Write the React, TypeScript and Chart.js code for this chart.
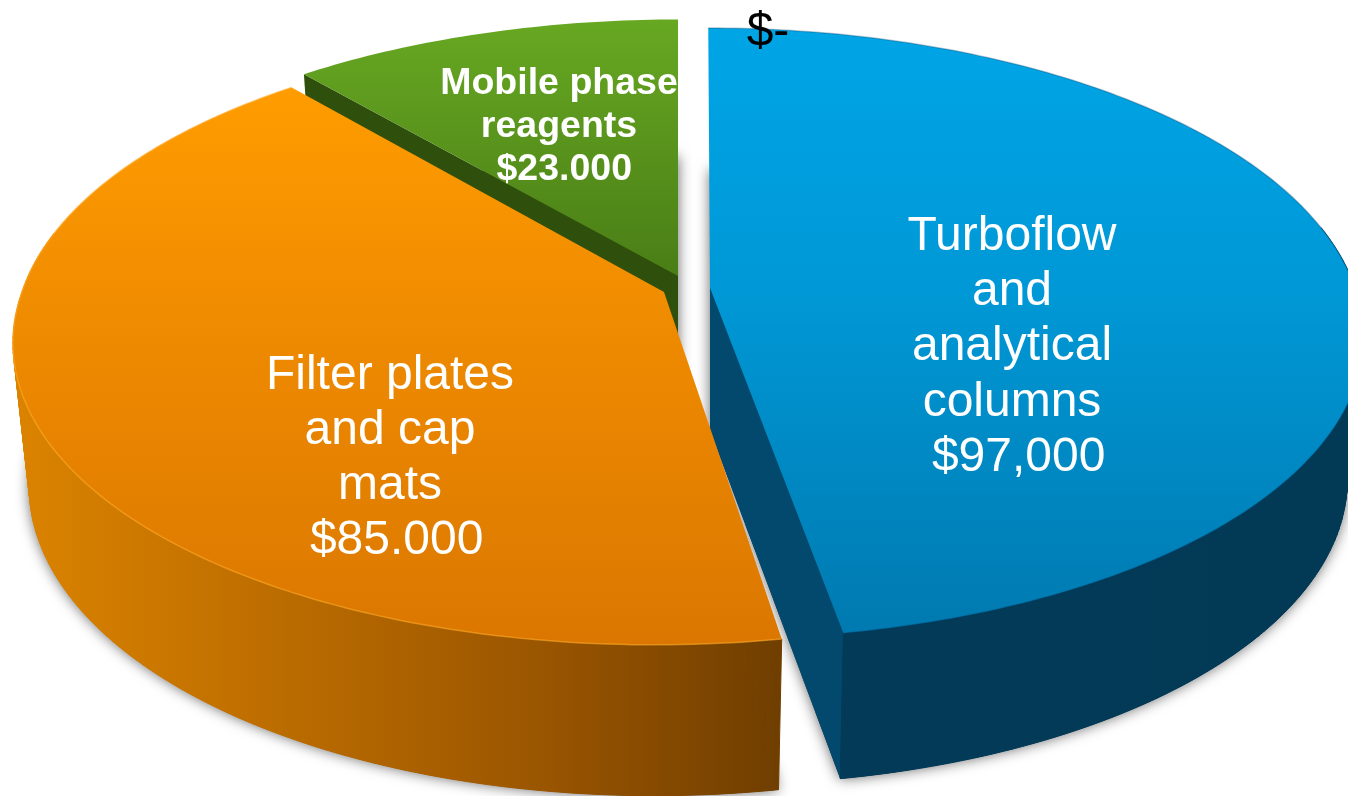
import React, { useEffect, useRef } from "react";
import Chart from "chart.js/auto";

// ---- chart data ----
const categories = [
  "Other",
  "Turboflow and analytical columns",
  "Filter plates and cap mats",
  "Mobile phase reagents",
];
const costs = [0, 97000, 85000, 23000];
const labelLines = [
  ["$-"],
  ["Turboflow", "and", "analytical", "columns", " $97,000"],
  ["Filter plates", "and cap", "mats", " $85.000"],
  ["Mobile phase", "reagents", " $23.000"],
];

// ---- styling ----
const FONT = '"Liberation Sans", Arial, sans-serif';
const PERSPECTIVE = 0.154;
const LOWER_X_SCALE = 0.975;
const DEPTH = 142;

type Stop = [number, string];
interface Look {
  cx: number;
  cy: number;
  rx: number;
  ry: number;
  frontY: number;
  lowerY: number;
  shearFront: number;
  shearBack: number;
  face: [number, number, Stop[]];
  wall: [number, number, Stop[]];
  cut: string;
  rim?: string;
}
const looks: (Look | null)[] = [
  null,
  {
    cx: 710, cy: 288, rx: 645, ry: 300, frontY: 0.99, lowerY: 1.0, shearFront: -5, shearBack: -2,
    face: [30, 640, [[0, "#00a5e6"], [0.45, "#0097d5"], [1, "#0079af"]]],
    wall: [700, 1348, [[0, "#023a58"], [1, "#023a56"]]],
    cut: "#03496e",
    rim: "rgba(0,60,100,0.3)",
  },
  {
    cx: 664, cy: 292, rx: 642, ry: 300, frontY: 0.995, lowerY: 1.02, shearFront: 8, shearBack: 0,
    face: [90, 645, [[0, "#ff9c00"], [0.5, "#ec8800"], [1, "#db7700"]]],
    wall: [20, 783, [[0, "#db8300"], [0.35, "#bb6c00"], [0.7, "#985400"], [1, "#6f3e00"]]],
    cut: "#8a4d00",
    rim: "rgba(255,170,40,0.6)",
  },
  {
    cx: 678, cy: 276, rx: 645, ry: 296, frontY: 1, lowerY: 1.02, shearFront: 0, shearBack: 0,
    face: [20, 280, [[0, "#67a822"], [1, "#497d16"]]],
    wall: [300, 680, [[0, "#2f4f0c"], [1, "#2f4f0c"]]],
    cut: "#2f4f0c",
  },
];
const drawOrder = [3, 1, 2];

interface LabelPlace { x: number; y: number; size: number; gap: number; bold: boolean; color: string; }
const labelPlaces: LabelPlace[] = [
  { x: 768, y: 46, size: 48, gap: 0, bold: false, color: "#000000" },
  { x: 1012, y: 250, size: 48, gap: 55.2, bold: false, color: "#ffffff" },
  { x: 390, y: 389, size: 48, gap: 55, bold: false, color: "#ffffff" },
  { x: 559, y: 94, size: 37.5, gap: 43, bold: true, color: "#ffffff" },
];

function project(l: Look, theta: number, r: number, lower: boolean): [number, number] {
  const u = Math.sin(theta) * r;
  const v = Math.cos(theta) * r;
  const w = 1 + PERSPECTIVE * v;
  const shear = v < 0 ? (l.shearFront * v) / w : lower ? 0 : (l.shearBack * v) / w;
  const front = v < 0 ? l.frontY : 1;
  if (!lower) return [l.cx + shear + (l.rx * u) / w, l.cy - (front * l.ry * v) / w];
  return [
    l.cx + shear + (LOWER_X_SCALE * l.rx * u) / w,
    l.cy + DEPTH - (l.lowerY * l.ry * v) / w,
  ];
}

function sectorPath(ctx: CanvasRenderingContext2D, l: Look, a: number, b: number, lower: boolean) {
  const n = Math.max(8, Math.ceil((b - a) * 60));
  ctx.beginPath();
  const c = project(l, 0, 0, lower);
  ctx.moveTo(c[0], c[1]);
  for (let i = 0; i <= n; i++) {
    const p = project(l, a + ((b - a) * i) / n, 1, lower);
    ctx.lineTo(p[0], p[1]);
  }
  ctx.closePath();
}

function vGrad(ctx: CanvasRenderingContext2D, spec: [number, number, Stop[]], horizontal: boolean) {
  const g = horizontal
    ? ctx.createLinearGradient(spec[0], 0, spec[1], 0)
    : ctx.createLinearGradient(0, spec[0], 0, spec[1]);
  spec[2].forEach(([o, c]) => g.addColorStop(o, c));
  return g;
}

const perspectivePie = {
  id: "perspectivePie",
  // Uses the angles Chart.js computed for each arc and projects them on a tilted disc.
  beforeDatasetsDraw(chart: any) {
    const ctx: CanvasRenderingContext2D = chart.ctx;
    const arcs = chart.getDatasetMeta(0).data;
    drawOrder.forEach((i) => {
      const l = looks[i];
      if (!l) return;
      const a = arcs[i].startAngle + Math.PI / 2;
      const b = arcs[i].endAngle + Math.PI / 2;
      const wall = vGrad(ctx, l.wall, true);

      ctx.save();
      ctx.shadowColor = "rgba(0,0,0,0.6)";
      ctx.shadowBlur = 14;
      sectorPath(ctx, l, a, b, true);
      ctx.fillStyle = wall;
      ctx.fill();
      ctx.restore();

      const cutWall = (t: number) => {
        const p0 = project(l, t, 0, false);
        const p1 = project(l, t, 1, false);
        const p2 = project(l, t, 1, true);
        const p3 = project(l, t, 0, true);
        ctx.beginPath();
        ctx.moveTo(p0[0], p0[1]);
        ctx.lineTo(p1[0], p1[1]);
        ctx.lineTo(p2[0], p2[1]);
        ctx.lineTo(p3[0], p3[1]);
        ctx.closePath();
        ctx.fillStyle = l.cut;
        ctx.fill();
      };
      if (Math.sin(a) < -1e-3) cutWall(a);
      if (Math.sin(b) > 1e-3) cutWall(b);

      const n = Math.ceil((b - a) * 60);
      ctx.fillStyle = wall;
      ctx.strokeStyle = wall;
      ctx.lineWidth = 1;
      for (let k = 0; k < n; k++) {
        const t0 = a + ((b - a) * k) / n;
        const t1 = a + ((b - a) * (k + 1)) / n;
        if (Math.cos((t0 + t1) / 2) > 0.2) continue;
        const p0 = project(l, t0, 1, false);
        const p1 = project(l, t1, 1, false);
        const p2 = project(l, t1, 1, true);
        const p3 = project(l, t0, 1, true);
        ctx.beginPath();
        ctx.moveTo(p0[0], p0[1]);
        ctx.lineTo(p1[0], p1[1]);
        ctx.lineTo(p2[0], p2[1]);
        ctx.lineTo(p3[0], p3[1]);
        ctx.closePath();
        ctx.fill();
        ctx.stroke();
      }

      sectorPath(ctx, l, a, b, false);
      ctx.fillStyle = vGrad(ctx, l.face, false);
      ctx.fill();

      if (l.rim) {
        const m = Math.ceil((b - a) * 60);
        ctx.beginPath();
        for (let k = 0; k <= m; k++) {
          const p = project(l, a + ((b - a) * k) / m, 1, false);
          if (k === 0) ctx.moveTo(p[0], p[1]);
          else ctx.lineTo(p[0], p[1]);
        }
        ctx.strokeStyle = l.rim;
        ctx.lineWidth = 1.5;
        ctx.stroke();
      }
    });
  },
  beforeDatasetDraw() {
    return false;
  },
  afterDraw(chart: any) {
    const ctx: CanvasRenderingContext2D = chart.ctx;
    ctx.save();
    ctx.textAlign = "center";
    ctx.textBaseline = "alphabetic";
    labelLines.forEach((lines, i) => {
      const p = labelPlaces[i];
      ctx.font = `${p.bold ? "bold " : ""}${p.size}px ${FONT}`;
      ctx.fillStyle = p.color;
      lines.forEach((line, j) => ctx.fillText(line, p.x, p.y + j * p.gap));
    });
    ctx.restore();
  },
};

export default function App() {
  const ref = useRef<HTMLCanvasElement>(null);
  useEffect(() => {
    document.body.style.background = "#ffffff";
    const chart = new Chart(ref.current as HTMLCanvasElement, {
      type: "pie",
      data: {
        labels: categories,
        datasets: [{ data: costs, backgroundColor: ["#000000", "#0097d5", "#ec8800", "#5a9520"], borderWidth: 0 }],
      },
      options: {
        responsive: false,
        animation: false,
        plugins: { legend: { display: false }, tooltip: { enabled: false } },
      },
      plugins: [perspectivePie],
    } as any);
    return () => chart.destroy();
  }, []);
  return (
    <canvas
      ref={ref}
      width={1348}
      height={796}
      style={{ position: "fixed", left: 0, top: 0, width: 1348, height: 796, display: "block" }}
    />
  );
}
